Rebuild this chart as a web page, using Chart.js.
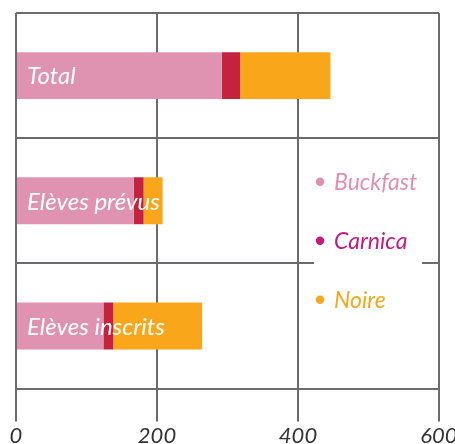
<!DOCTYPE html>
<html>
<head>
<meta charset="utf-8">
<script src="https://cdn.jsdelivr.net/npm/chart.js@4/dist/chart.umd.min.js"></script>
<style>
  html, body { margin: 0; padding: 0; background: #fff; overflow: hidden; }
  #wrap { position: relative; width: 455px; height: 444px; overflow: hidden; }
  #box { position: absolute; left: 0; top: 0; width: 480px; height: 450px; }
</style>
</head>
<body>
<div id="wrap"><div id="box"><canvas id="c"></canvas></div></div>
<script>
const categories = ["Total", "Elèves prévus", "Elèves inscrits"];
const buckfast = [292, 167, 124];
const carnica = [26, 14, 14];
const noire = [128, 27, 126];
const xTicks = [0, 200, 400, 600];
const seriesNames = ["Buckfast", "Carnica", "Noire"];

const FONT = "Lato";
const GRID = "#6b6b6f";

const barLabels = {
  id: "barLabels",
  afterDatasetsDraw(chart) {
    const { ctx, scales } = chart;
    ctx.save();
    ctx.font = "italic 24px " + FONT;
    ctx.fillStyle = "#ffffff";
    ctx.textBaseline = "middle";
    ctx.textAlign = "left";
    categories.forEach((c, i) => {
      ctx.fillText(c, scales.x.getPixelForValue(0) + 11, scales.y.getPixelForValue(i) + 1);
    });
    ctx.restore();
  }
};

const floatLegend = {
  id: "floatLegend",
  afterDraw(chart) {
    const { ctx, scales } = chart;
    const x0 = scales.x.getPixelForValue(427);
    const yMid = scales.y.getPixelForValue(1) + 40;
    ctx.save();
    ctx.fillStyle = "#ffffff";
    ctx.fillRect(x0 - 3, yMid - 84, 108, 160);
    ctx.font = "italic 23px " + FONT;
    ctx.textBaseline = "middle";
    ctx.textAlign = "left";
    chart.data.datasets.forEach((ds, i) => {
      const y = yMid - 59 + i * 59;
      ctx.fillStyle = ds.legendColor;
      ctx.beginPath();
      ctx.arc(x0 + 3, y, 4.2, 0, Math.PI * 2);
      ctx.fill();
      ctx.fillText(ds.label, x0 + 17, y + 1);
    });
    ctx.restore();
  }
};

new Chart(document.getElementById("c"), {
  type: "bar",
  data: {
    labels: categories,
    datasets: [
      { label: seriesNames[0], data: buckfast, backgroundColor: "#df93b0", legendColor: "#e08fb0" },
      { label: seriesNames[1], data: carnica, backgroundColor: "#c4223f", legendColor: "#c8197a" },
      { label: seriesNames[2], data: noire, backgroundColor: "#f9a61b", legendColor: "#f9a61b" }
    ]
  },
  options: {
    indexAxis: "y",
    responsive: true,
    maintainAspectRatio: false,
    animation: false,
    layout: { padding: { left: 16, right: 41, top: 13, bottom: 0 } },
    datasets: { bar: { categoryPercentage: 1, barPercentage: 0.375, borderWidth: 0 } },
    plugins: { legend: { display: false }, tooltip: { enabled: false } },
    scales: {
      x: {
        type: "linear",
        stacked: true,
        min: 0,
        max: 600,
        afterBuildTicks: (axis) => { axis.ticks = xTicks.map(v => ({ value: v })); },
        ticks: { color: "#333333", font: { family: FONT, size: 22, style: "italic" }, padding: 1 },
        grid: { color: GRID, lineWidth: 2, tickLength: 33, tickColor: GRID, tickWidth: 2 },
        border: { display: false }
      },
      y: {
        type: "category",
        stacked: true,
        ticks: { display: false },
        grid: { color: GRID, lineWidth: 2, drawTicks: false, offset: true },
        border: { display: false }
      }
    }
  },
  plugins: [barLabels, floatLegend]
});
</script>
</body>
</html>
